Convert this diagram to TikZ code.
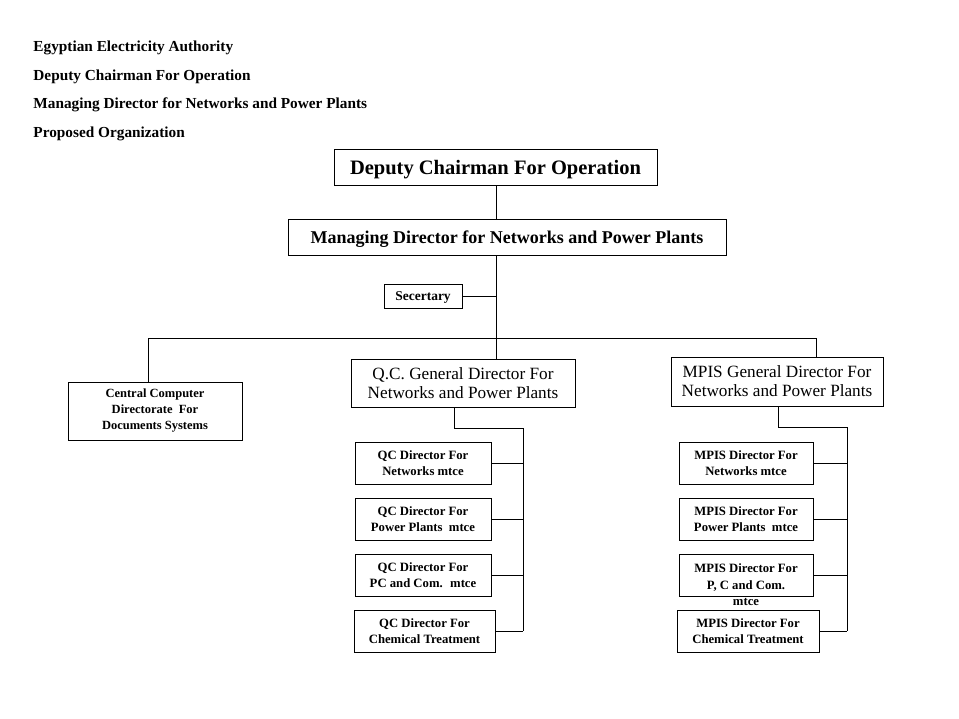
\documentclass[tikz,border=0pt]{standalone}
\usepackage{fontspec}
\setmainfont{Liberation Serif}
\usepackage{tikz}

\newcommand{\fsz}[2]{\fontsize{#1}{#2}\selectfont}

\begin{document}
\begin{tikzpicture}[x=1pt,y=-1pt,line width=0.9pt,
    box/.style={draw,inner sep=0pt,align=center},
    head/.style={anchor=base west,inner sep=0pt,font=\bfseries\fsz{15.3}{17}},
    gen/.style={box,font=\fsz{17.2}{19}},
    sub/.style={box,minimum height=42pt,font=\bfseries\fsz{12.7}{16}}]
    \useasboundingbox (0,0) rectangle (959,719);

    % header lines
    \node[head] (h1) at (33,52) {Egyptian Electricity Authority};
    \node[head] (h2) at (33,81) {Deputy Chairman For Operation};
    \node[head] (h3) at (33,109) {Managing Director for Networks and Power Plants};
    \node[head] (h4) at (33,138) {Proposed Organization};

    % top of the chart
    \node[box,minimum width=323pt,minimum height=36pt,text depth=0pt,font=\bfseries\fsz{20.5}{22}] (dco) at (495.5,167) {Deputy Chairman For Operation};
    \node[box,minimum width=438pt,minimum height=36pt,text depth=0pt,font=\bfseries\fsz{18}{20}] (mgr) at (507,237) {Managing Director for Networks and Power Plants};
    \node[box,minimum width=78pt,minimum height=24pt,text depth=0pt,font=\bfseries\fsz{13.5}{15}] (sec) at (423,296) {Secertary};

    % second level
    \node[box,minimum width=174pt,minimum height=58pt,font=\bfseries\fsz{12.5}{16}] (ccd) at (155,411) {Central Computer\\Directorate~ For\\Documents Systems};
    \node[gen,minimum width=224pt,minimum height=48pt] (qcg) at (463,383) {Q.C. General Director For\\Networks and Power Plants};
    \node[gen,minimum width=212pt,minimum height=49pt] (mpg) at (777,381.5) {MPIS General Director For\\Networks and Power Plants};

    % QC directors
    \node[sub,minimum width=136pt] (qc1) at (423,463) {QC Director For\\Networks mtce};
    \node[sub,minimum width=136pt] (qc2) at (423,519) {QC Director For\\Power Plants~ mtce};
    \node[sub,minimum width=136pt] (qc3) at (423,575) {QC Director For\\PC and Com.~ mtce};
    \node[sub,minimum width=141pt] (qc4) at (424.5,631) {QC Director For\\Chemical Treatment};

    % MPIS directors
    \node[sub,minimum width=134pt] (mp1) at (746,463) {MPIS Director For\\Networks mtce};
    \node[sub,minimum width=134pt] (mp2) at (746,519) {MPIS Director For\\Power Plants~ mtce};
    \node[sub,minimum width=134pt] (mp3) at (746,575) {};
    \node[anchor=north,inner sep=0pt,align=center,font=\bfseries\fsz{12.7}{16.5}] (mp3t) at ([yshift=-10pt]mp3.north) {MPIS Director For\\P, C and Com.\\mtce};
    \node[sub,minimum width=142pt] (mp4) at (748,631) {MPIS Director For\\Chemical Treatment};

    % connectors
    \coordinate (trunk) at (496.5,338);
    \coordinate (ccj) at (148,338);
    \coordinate (mpj) at (816,338);
    \draw (dco.south -| trunk) -- (mgr.north -| trunk);
    \draw (mgr.south -| trunk) -- (qcg.north -| trunk);
    \draw (sec.east) -- (sec.east -| trunk);
    \draw (ccj |- ccd.north) -- (ccj) -- (mpj) -- (mpj |- mpg.north);

    \coordinate (qcj) at (454,428);
    \coordinate (qcbus) at (523,428);
    \draw (qcj |- qcg.south) -- (qcj) -- (qcbus) -- (qcbus |- qc4.east);
    \foreach \n in {1,...,4}
        \draw (qc\n.east) -- (qc\n.east -| qcbus);

    \coordinate (mpk) at (778,427);
    \coordinate (mpbus) at (847,427);
    \draw (mpk |- mpg.south) -- (mpk) -- (mpbus) -- (mpbus |- mp4.east);
    \foreach \n in {1,...,4}
        \draw (mp\n.east) -- (mp\n.east -| mpbus);
\end{tikzpicture}
\end{document}
